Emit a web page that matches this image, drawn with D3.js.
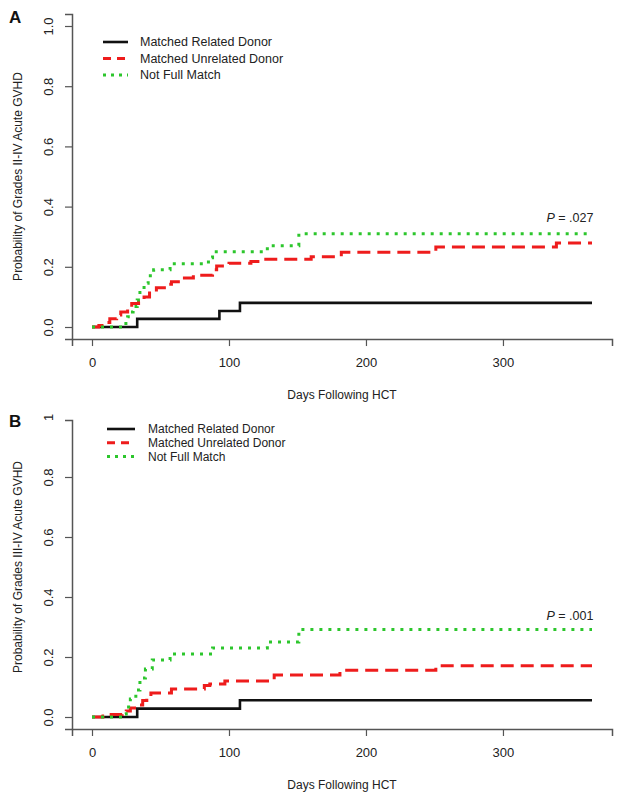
<!DOCTYPE html>
<html>
<head>
<meta charset="utf-8">
<script src="https://cdn.jsdelivr.net/npm/d3@7"></script>
<style>
  body { margin: 0; background: #fff; }
  svg { display: block; font-family: "Liberation Sans", Arial, sans-serif; }
</style>
</head>
<body>
<div id="chart"></div>
<script>

// ---- data ----
const seriesNames = ['Matched Related Donor', 'Matched Unrelated Donor', 'Not Full Match']
const xTicks = [0, 100, 200, 300]
const yTicks = [0, 0.2, 0.4, 0.6, 0.8, 1.0]

// panel A: grades II-IV
const aMrdDays = [0, 33, 93, 108, 365]
const aMrdProb = [0, 0.027, 0.053, 0.08, 0.08]
const aMudDays = [0, 5, 10, 13, 18, 21, 26, 29, 34, 38, 42, 47, 55, 58, 66, 74, 88, 91, 100, 116, 125, 160, 182, 251, 339, 365]
const aMudProb = [0, 0.005, 0.015, 0.027, 0.04, 0.05, 0.065, 0.078, 0.083, 0.1, 0.118, 0.13, 0.142, 0.15, 0.163, 0.172, 0.19, 0.203, 0.212, 0.218, 0.225, 0.233, 0.248, 0.266, 0.279, 0.279]
const aNfmDays = [0, 23, 26, 28, 30, 33, 35, 38, 41, 45, 57, 85, 88, 128, 151, 365]
const aNfmProb = [0, 0.012, 0.034, 0.05, 0.068, 0.09, 0.115, 0.145, 0.17, 0.19, 0.21, 0.23, 0.25, 0.27, 0.31, 0.31]

// panel B: grades III-IV
const bMrdDays = [0, 33, 108, 365]
const bMrdProb = [0, 0.028, 0.056, 0.056]
const bMudDays = [0, 8, 14, 22, 25, 28, 33, 37, 40, 43, 58, 82, 86, 97, 133, 181, 251, 365]
const bMudProb = [0, 0.003, 0.008, 0.01, 0.02, 0.03, 0.04, 0.055, 0.07, 0.08, 0.093, 0.105, 0.11, 0.12, 0.14, 0.156, 0.171, 0.171]
const bNfmDays = [0, 22, 25, 28, 32, 35, 39, 44, 57, 88, 128, 151, 365]
const bNfmProb = [0, 0.01, 0.033, 0.06, 0.09, 0.13, 0.16, 0.19, 0.21, 0.23, 0.25, 0.292, 0.292]

const pValues = ['.027', '.001']

// ---- styles ----
const STYLES = [
    { color: '#111', width: 2.6, dash: null, legendDash: null },
    { color: '#ee1c1c', width: 3, dash: '13,7', legendDash: '8,6' },
    { color: '#2cc62c', width: 3, dash: '3,6', legendDash: '3,5' }
]
const AXIS_COLOR = '#555'

const WIDTH = 624
const HEIGHT = 801

const PANELS = [
    {
        letter: 'A', yTitle: 'Probability of Grades II-IV Acute GVHD',
        y0: 327, y1: 26, top: 1.04, oneLabel: '1.0', letterY: 23,
        series: [[aMrdDays, aMrdProb], [aMudDays, aMudProb], [aNfmDays, aNfmProb]],
        legend: { x1: 103, x2: 128, tx: 140, y: 42, step: 16.5, size: 12.5 },
        pY: 0.35, p: pValues[0]
    },
    {
        letter: 'B', yTitle: 'Probability of Grades III-IV Acute GVHD',
        y0: 717, y1: 417, top: 0.99, oneLabel: '1', letterY: 427,
        series: [[bMrdDays, bMrdProb], [bMudDays, bMudProb], [bNfmDays, bNfmProb]],
        legend: { x1: 107, x2: 135, tx: 148, y: 429, step: 13.8, size: 12 },
        pY: 0.325, p: pValues[1]
    }
]

const svg = d3.select('#chart').append('svg')
    .attr('width', WIDTH)
    .attr('height', HEIGHT)

svg.append('rect').attr('width', WIDTH).attr('height', HEIGHT).attr('fill', '#fff')

// x scale is shared: R style 4% padding round 0..365
const x = d3.scaleLinear()
    .domain([-14.6, 379.6])
    .range([72, 612])

PANELS.forEach((p) => {
    const span = p.y0 - p.y1
    const y = d3.scaleLinear()
        .domain([-0.04, p.top])
        .range([p.y0 + 0.04 * span, p.y0 - p.top * span])

    const g = svg.append('g')

    // x axis
    const xAxis = g.append('g')
        .attr('transform', `translate(0, ${y(-0.04)})`)
        .call(d3.axisBottom(x).tickValues(xTicks).tickSizeOuter(0).tickSize(7))
    xAxis.select('.domain').attr('stroke', AXIS_COLOR).attr('stroke-width', 1.5)
    xAxis.selectAll('.tick line').attr('stroke', AXIS_COLOR).attr('stroke-width', 1.2)
    xAxis.selectAll('text')
        .attr('y', 19)
        .attr('fill', '#222')
        .style('font-size', '13px')
        .style('font-family', '"Liberation Sans", Arial, sans-serif')

    // y axis
    const yAxis = g.append('g')
        .attr('transform', `translate(${x(-14.6)}, 0)`)
        .call(d3.axisLeft(y).tickValues(yTicks).tickSizeOuter(0).tickSize(7)
            .tickFormat(d => d === 1 ? p.oneLabel : d3.format('.1f')(d)))
    yAxis.select('.domain').attr('stroke', AXIS_COLOR).attr('stroke-width', 1.5)
    yAxis.selectAll('.tick line').attr('stroke', AXIS_COLOR).attr('stroke-width', 1.2)
        .attr('display', d => y(d) < y(p.top) ? 'none' : null)
    yAxis.selectAll('text')
        .attr('x', 0).attr('dy', 0)
        .attr('text-anchor', 'middle')
        .attr('transform', 'translate(-19, 0) rotate(-90)')
        .attr('fill', '#222')
        .style('font-size', '13px')
        .style('font-family', '"Liberation Sans", Arial, sans-serif')

    // titles
    g.append('text')
        .attr('x', x(182.5))
        .attr('y', y(-0.04) + 60)
        .attr('text-anchor', 'middle')
        .attr('font-size', 12)
        .attr('fill', '#222')
        .text('Days Following HCT')

    g.append('text')
        .attr('transform', `translate(22, ${y(0.5)}) rotate(-90)`)
        .attr('text-anchor', 'middle')
        .attr('font-size', 12)
        .attr('fill', '#222')
        .text(p.yTitle)

    g.append('text')
        .attr('x', 9)
        .attr('y', p.letterY)
        .attr('font-size', 17)
        .attr('font-weight', 'bold')
        .attr('fill', '#111')
        .text(p.letter)

    // curves
    const line = d3.line()
        .x(d => x(d[0]))
        .y(d => y(d[1]))
        .curve(d3.curveStepAfter)

    p.series.forEach(([days, prob], i) => {
        const pts = days.map((d, j) => [d, prob[j]])
        g.append('path')
            .datum(pts)
            .attr('d', line)
            .attr('fill', 'none')
            .attr('stroke', STYLES[i].color)
            .attr('stroke-width', STYLES[i].width)
            .attr('stroke-dasharray', STYLES[i].dash)
    })

    // legend
    const L = p.legend
    seriesNames.forEach((name, i) => {
        const ly = L.y + i * L.step
        g.append('line')
            .attr('x1', L.x1).attr('x2', L.x2)
            .attr('y1', ly).attr('y2', ly)
            .attr('stroke', STYLES[i].color)
            .attr('stroke-width', STYLES[i].width)
            .attr('stroke-dasharray', STYLES[i].legendDash)
        g.append('text')
            .attr('x', L.tx).attr('y', ly)
            .attr('dy', '0.35em')
            .attr('font-size', L.size)
            .attr('fill', '#222')
            .text(name)
    })

    // p value
    const pt = g.append('text')
        .attr('x', x(366))
        .attr('y', y(p.pY))
        .attr('text-anchor', 'end')
        .attr('font-size', 12.5)
        .attr('fill', '#222')
    pt.append('tspan').attr('font-style', 'italic').text('P')
    pt.append('tspan').text(' = ' + p.p)
})

</script>
</body>
</html>
